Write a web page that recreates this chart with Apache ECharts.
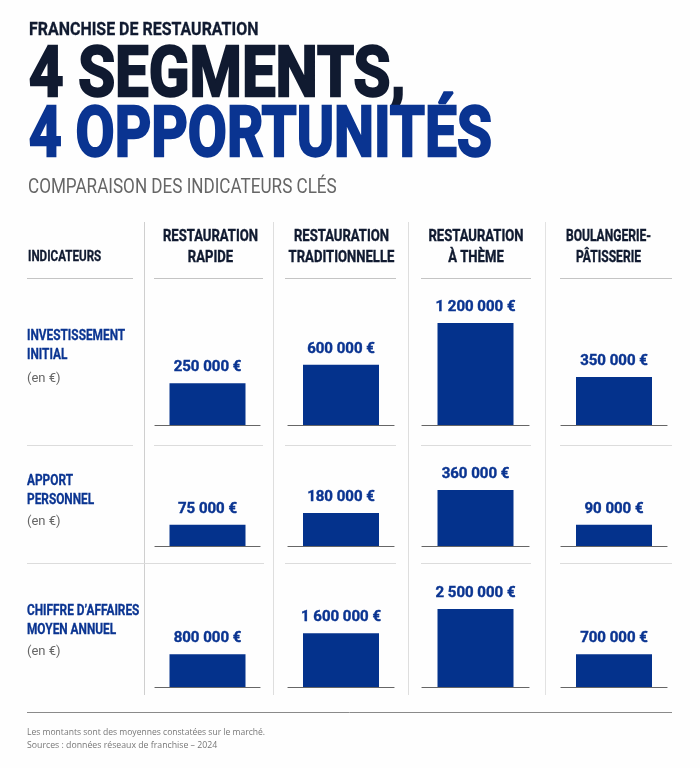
<!DOCTYPE html>
<html>
<head>
<meta charset="utf-8">
<script src="https://cdn.jsdelivr.net/npm/echarts@6/dist/echarts.min.js"></script>
<style>html,body{margin:0;padding:0;background:#fefefe}#main{width:700px;height:768px}</style>
</head>
<body>
<div id="main"></div>
<script>
var segments = ['RESTAURATION\nRAPIDE', 'RESTAURATION\nTRADITIONNELLE', 'RESTAURATION\nÀ THÈME', 'BOULANGERIE-\nPÂTISSERIE'];
var indicators = ['INVESTISSEMENT\nINITIAL', 'APPORT\nPERSONNEL', 'CHIFFRE D’AFFAIRES\nMOYEN ANNUEL'];

// montants imprimes
var investissement = [250000, 600000, 1200000, 350000];
var apport = [75000, 180000, 360000, 90000];
var chiffre = [800000, 1600000, 2500000, 700000];

// hauteur des barres, en % de la plus haute de la ligne
// (l'original n'est pas a l'echelle des montants)
var hauteurInvestissement = [41, 59, 100, 47];
var hauteurApport = [38, 59, 100, 38];
var hauteurChiffre = [42, 69, 100, 42];

var amounts = [investissement, apport, chiffre];
var heights = [hauteurInvestissement, hauteurApport, hauteurChiffre];

var ROBOTO = 'Roboto, sans-serif';
var INK = '#101a30', BLUE = '#0a3491', BAR = '#04328c';

var colLeft = [155, 288, 422, 561];
var colWidth = [105, 106, 107, 106];
var rowTop = [323, 490, 609];
var rowHeight = [102, 56, 78];

var myChart = echarts.init(document.getElementById('main'));

function euros(v) {
    return String(v).replace(/\B(?=(\d{3})+$)/g, ' ') + ' €';
}

var grid = [], xAxis = [], yAxis = [], series = [];
amounts.forEach(function (row, r) {
    row.forEach(function (v, c) {
        var i = grid.length;
        grid.push({left: colLeft[c], top: rowTop[r], width: colWidth[c], height: rowHeight[r]});
        xAxis.push({
            gridIndex: i, type: 'category', data: [segments[c]],
            axisLine: {show: true, lineStyle: {color: '#666', width: 1.2}},
            axisTick: {show: false}, axisLabel: {show: false}
        });
        yAxis.push({gridIndex: i, type: 'value', min: 0, max: 100, show: false});
        series.push({
            type: 'bar', xAxisIndex: i, yAxisIndex: i,
            barWidth: 76, silent: true,
            itemStyle: {color: BAR},
            data: [heights[r][c]],
            label: {
                show: true, position: 'top', distance: 8,
                formatter: function () { return euros(v); },
                fontFamily: ROBOTO, fontWeight: 'bold', fontSize: 15, color: BLUE,
                textBorderColor: BLUE, textBorderWidth: 0.4
            }
        });
    });
});

function txt(x, y, s, size, color, opt) {
    opt = opt || {};
    return {
        type: 'text', x: x, y: y, scaleX: opt.sx || 1, silent: true,
        style: {
            text: s, fontFamily: opt.font || ROBOTO, fontWeight: opt.weight || 'bold', fontSize: size,
            fill: color, align: opt.align || 'left', verticalAlign: 'middle',
            lineHeight: opt.lh || size * 1.2,
            stroke: opt.stroke ? color : null, lineWidth: opt.stroke || 0
        }
    };
}
function line(x1, y1, x2, y2, color, w) {
    return {type: 'line', silent: true, shape: {x1: x1, y1: y1, x2: x2, y2: y2}, style: {stroke: color, lineWidth: w || 1}};
}

var g = [];
g.push(txt(29, 30, 'FRANCHISE DE RESTAURATION', 19, INK, {sx: 0.84, stroke: 0.3}));
g.push(txt(29, 78, '4 SEGMENTS,', 70, INK, {stroke: 2.4, sx: 0.855}));
g.push(txt(29, 138, '4 OPPORTUNITÉS', 70, BLUE, {stroke: 2.4, sx: 0.81}));
g.push(txt(28, 188, 'COMPARAISON DES INDICATEURS CLÉS', 20, '#666', {weight: 'normal', sx: 0.855}));

g.push(txt(28, 257, 'INDICATEURS', 14, INK, {sx: 0.83, stroke: 0.3}));
var headCx = [210.5, 341.5, 476, 608.5];
var headSx = [0.77, 0.77, 0.77, 0.71];
segments.forEach(function (s, i) {
    g.push(txt(headCx[i], 247, s, 17, INK, {align: 'center', lh: 21, sx: headSx[i], stroke: 0.4}));
});

var labelY = [346, 491, 621];
var unitY = [379, 522, 652];
indicators.forEach(function (s, i) {
    g.push(txt(27, labelY[i], s, 15, BLUE, {lh: 19, sx: 0.79, stroke: 0.3}));
    g.push(txt(27, unitY[i], '(en €)', 13, '#666', {weight: 'normal'}));
});

[[144.5, '#cfcfcf'], [273.5, '#dedede'], [408.5, '#dedede'], [545.5, '#e2e2e2']].forEach(function (v) {
    g.push(line(v[0], 222, v[0], 695, v[1]));
});
[278.5, 445.5, 563.5].forEach(function (y, k) {
    var col = k === 0 ? '#c4c4c4' : '#dcdcdc';
    var parts = k === 2 ? [[27, 264], [285, 396], [421, 531], [560, 672]]
        : [[27, 133], [154, 263], [285, 396], [421, 531], [560, 672]];
    parts.forEach(function (s) {
        g.push(line(s[0], y, s[1], y, col));
    });
});
g.push(line(27, 712.5, 672, 712.5, '#8a8a8a', 1));
g.push(txt(27, 732, 'Les montants sont des moyennes constatées sur le marché.', 9.5, '#777', {weight: 'normal', font: '"Open Sans", sans-serif', sx: 0.9}));
g.push(txt(27, 745, 'Sources : données réseaux de franchise – 2024', 9.5, '#777', {weight: 'normal', font: '"Open Sans", sans-serif', sx: 0.92}));

option = {
    animation: false,
    backgroundColor: '#fefefe',
    grid: grid,
    xAxis: xAxis,
    yAxis: yAxis,
    series: series,
    graphic: {elements: g}
};
myChart.setOption(option);
</script>
</body>
</html>
